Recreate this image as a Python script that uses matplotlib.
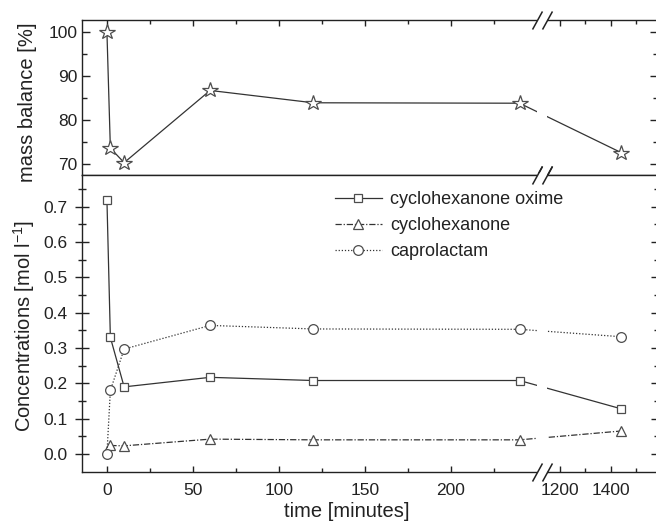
import numpy as np
import matplotlib.pyplot as plt
from matplotlib.transforms import blended_transform_factory

plt.rcParams['font.family'] = ['Liberation Sans', 'DejaVu Sans']
plt.rcParams['mathtext.default'] = 'regular'

# data
time_min = [0, 2, 10, 60, 120, 240, 1440]
mass_balance = [100, 73.6, 70.3, 86.7, 83.9, 83.8, 72.6]
oxime = [0.72, 0.33, 0.19, 0.217, 0.208, 0.208, 0.128]
time_cyc = [2, 10, 60, 120, 240, 1440]
cyclohexanone = [0.024, 0.023, 0.042, 0.040, 0.040, 0.065]
caprolactam = [0.0, 0.18, 0.297, 0.364, 0.354, 0.353, 0.332]

x_major = [0, 50, 100, 150, 200, 1200, 1400]
x_minor = [25, 75, 125, 175, 225, 1300, 1500]

# broken x axis: linear up to 250, squeezed gap, compressed after 1150
BREAK_LO, BREAK_HI, GAP, K = 250, 1150, 6.0, 0.1483


def fwd(x):
    x = np.asarray(x, dtype=float)
    return np.where(x <= BREAK_LO, x,
                    np.where(x >= BREAK_HI, BREAK_LO + GAP + (x - BREAK_HI) * K,
                             BREAK_LO + (x - BREAK_LO) * GAP / (BREAK_HI - BREAK_LO)))


def inv(y):
    y = np.asarray(y, dtype=float)
    hi = BREAK_LO + GAP
    return np.where(y <= BREAK_LO, y,
                    np.where(y >= hi, BREAK_HI + (y - hi) / K,
                             BREAK_LO + (y - BREAK_LO) * (BREAK_HI - BREAK_LO) / GAP))


LC = '#333333'   # line colour
MC = '#4d4d4d'   # marker edge
SC = '#222222'   # spines / text

fig = plt.figure(figsize=(6.56, 5.25), dpi=100)
# right spine sits just outside the picture, like the original crop
ax1 = fig.add_axes([0.125, 0.6667, 0.878, 0.2952])
ax2 = fig.add_axes([0.125, 0.101, 0.878, 0.5657])

ax1.plot(time_min, mass_balance, color=LC, lw=0.9, marker='*', ms=11.5,
         mfc='white', mec=MC, mew=0.9)

ax2.plot(time_min, oxime, color=LC, lw=0.9, ls='-', marker='s', ms=6,
         mfc='white', mec=MC, mew=0.9, label='cyclohexanone oxime')
ax2.plot(time_cyc, cyclohexanone, color=LC, lw=0.9, ls=(0, (5, 1.5, 1, 1.5)),
         marker='^', ms=7.5, mfc='white', mec=MC, mew=0.9, label='cyclohexanone')
ax2.plot(time_min, caprolactam, color=LC, lw=0.9, ls=(0, (1, 1.5)), marker='o',
         ms=7, mfc='white', mec=MC, mew=0.9, label='caprolactam')

for ax in (ax1, ax2):
    ax.set_xscale('function', functions=(fwd, inv))
    ax.set_xlim(-14.5, 1585)
    ax.set_xticks(x_major)
    ax.set_xticks(x_minor, minor=True)
    for s in ax.spines.values():
        s.set_linewidth(1.0)
        s.set_color(SC)
    ax.tick_params(which='both', colors=SC, width=1.0, labelcolor=SC, labelsize=12.5)
    ax.axvspan(BREAK_LO, BREAK_HI, color='white', lw=0, zorder=2.2)

# top panel
ax1.set_ylim(67.5, 102.7)
ax1.set_yticks([70, 80, 90, 100])
ax1.set_yticks([75, 85, 95], minor=True)
ax1.tick_params(axis='x', which='both', top=True, bottom=False, labelbottom=False,
                direction='in')
ax1.tick_params(axis='x', which='major', length=4.5)
ax1.tick_params(axis='x', which='minor', length=3)
ax1.tick_params(axis='y', which='both', left=True, right=True, direction='in', pad=3)
ax1.tick_params(axis='y', which='major', length=6)
ax1.tick_params(axis='y', which='minor', length=3.5)
ax1.set_ylabel('mass balance [%]', fontsize=14.5, color=SC)
ax1.yaxis.set_label_coords(-0.078, 0.47)

# bottom panel
ax2.set_ylim(-0.051, 0.79)
ax2.set_yticks([0.0, 0.1, 0.2, 0.3, 0.4, 0.5, 0.6, 0.7])
ax2.set_yticklabels(['0.0', '0.1', '0.2', '0.3', '0.4', '0.5', '0.6', '0.7'])
ax2.set_yticks([0.05, 0.15, 0.25, 0.35, 0.45, 0.55, 0.65, 0.75], minor=True)
ax2.tick_params(axis='x', which='both', bottom=True, top=False, direction='in', pad=8)
ax2.tick_params(axis='x', which='major', length=4.5)
ax2.tick_params(axis='x', which='minor', length=3)
ax2.tick_params(axis='y', which='both', left=True, right=True, direction='inout', pad=5.5)
ax2.tick_params(axis='y', which='major', length=10)
ax2.tick_params(axis='y', which='minor', length=6)
ax2.set_ylabel('Concentrations [mol l$^{-1}$]', fontsize=14.5, color=SC)
ax2.yaxis.set_label_coords(-0.078, 0.49)
ax2.set_xlabel('time [minutes]', fontsize=14.5, color=SC)
ax2.xaxis.set_label_coords(0.46, -0.1)

leg = ax2.legend(loc='upper left', bbox_to_anchor=(0.439, 0.946), frameon=False,
                 fontsize=13, handlelength=2.6, handletextpad=0.45,
                 labelspacing=0.5, borderaxespad=0, borderpad=0, numpoints=1)
for txt in leg.get_texts():
    txt.set_color(SC)

# break marks "//" on the spines
slash = [(-0.55, -1.0), (0.55, 1.0)]
for ax, ys in ((ax1, (1.0, 0.0)), (ax2, (1.0, 0.0))):
    tr = blended_transform_factory(ax.transData, ax.transAxes)
    for y in ys:
        ax.plot([BREAK_LO, BREAK_HI], [y, y], transform=tr, color='white', lw=3,
                solid_capstyle='butt', clip_on=False, zorder=3)
        ax.plot([BREAK_LO, BREAK_HI], [y, y], transform=tr, ls='none', marker=slash,
                ms=13, mec=SC, mew=1.1, fillstyle='none', clip_on=False, zorder=4)

fig.savefig('out.png', dpi=100)
